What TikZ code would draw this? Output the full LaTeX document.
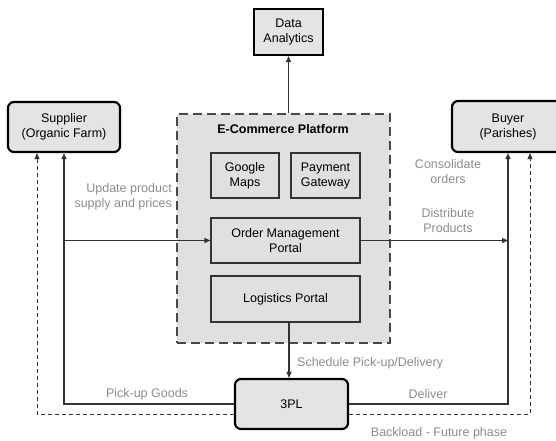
\documentclass[tikz,border=0pt]{standalone}
\usepackage{fontspec}
\setmainfont{Liberation Sans}
\usetikzlibrary{arrows.meta}
\definecolor{boxfill}{HTML}{E4E4E4}
\definecolor{platfill}{HTML}{E0E0E0}
\definecolor{lblgray}{HTML}{8C8C8C}
\definecolor{linegray}{HTML}{333333}
\definecolor{dashgray}{HTML}{484848}
\tikzset{
  txt/.style={font=\fontsize{12.5}{15}\selectfont, align=center, inner sep=0pt},
  bigbox/.style={txt, draw=black, line width=2.2pt, fill=boxfill, rounded corners=6pt},
  sqbox/.style={txt, draw=black, line width=2.2pt, fill=boxfill},
  inbox/.style={txt, draw=linegray, line width=1.1pt, fill=platfill},
  platbox/.style={draw=dashgray, line width=2.6pt, fill=platfill, dash pattern=on 9pt off 5pt},
  lbl/.style={txt, text=lblgray},
  conn/.style={draw=linegray, line width=1.2pt},
  arr/.style={conn, -{Triangle[length=6pt, width=5pt]}},
  backload/.style={draw=linegray, line width=1pt, dash pattern=on 4pt off 3pt, -{Triangle[length=6pt, width=5pt]}},
}
\begin{document}
\begin{tikzpicture}[x=1pt, y=-1pt]
\path[use as bounding box] (0,0) rectangle (556,440);
\clip (0,0) rectangle (556,440);

% platform container with its components
\node[platbox, minimum width=213pt, minimum height=229pt] (plat) at (283.5,228.5) {};
\node[txt, font=\fontsize{12.5}{15}\selectfont\bfseries] (plattitle) at (283,129) {E-Commerce Platform};
\node[inbox, minimum width=68pt, minimum height=45pt] (gmaps) at (245,175.5) {Google\\Maps};
\node[inbox, minimum width=69pt, minimum height=45pt] (pay) at (325.5,175.5) {Payment\\Gateway};
\node[inbox, minimum width=149pt, minimum height=45pt] (omp) at (285.5,240.5) {Order Management\\Portal};
\node[inbox, minimum width=149pt, minimum height=46pt] (lp) at (285.5,299) {Logistics Portal};

% external parties
\node[sqbox, minimum width=69pt, minimum height=46pt] (da) at (288.5,32) {Data\\Analytics};
\node[bigbox, minimum width=112pt, minimum height=50pt] (sup) at (64,127) {Supplier\\(Organic Farm)};
\node[bigbox, minimum width=112pt, minimum height=51pt] (buy) at (508,126.5) {Buyer\\(Parishes)};
\node[bigbox, minimum width=113pt, minimum height=50pt] (tpl) at (291.5,404) {3PL};

\coordinate (xs) at (289,0);

% data flows
\draw[arr] (plat.north -| da.south) -- (da.south);
\draw[arr] (lp.south -| xs) -- (tpl.north -| xs);
\draw[arr] (tpl.west) -| (sup.south);
\draw[arr] (tpl.east) -| (buy.south);
\draw[arr] (sup.south |- omp.west) -- (omp.west);
\draw[arr] (omp.east) -- (omp.east -| buy.south);

% future backload path
\draw[backload] ([yshift=-10pt]tpl.west) -| ([xshift=-27pt]sup.south);
\draw[backload] ([yshift=-10pt]tpl.east) -| ([xshift=22pt]buy.south);

% labels
\node[lbl, align=right, anchor=east] (l1) at (172,197) {Update product\\supply and prices};
\node[lbl] (l2) at (448,172) {Consolidate\\orders};
\node[lbl] (l3) at (448,221) {Distribute\\Products};
\node[lbl, anchor=west] (l4) at (297,363) {Schedule Pick-up/Delivery};
\node[lbl] (l5) at (147,394) {Pick-up Goods};
\node[lbl] (l6) at (428,394) {Deliver};
\node[lbl] (l7) at (439,433) {Backload - Future phase};
\end{tikzpicture}
\end{document}
